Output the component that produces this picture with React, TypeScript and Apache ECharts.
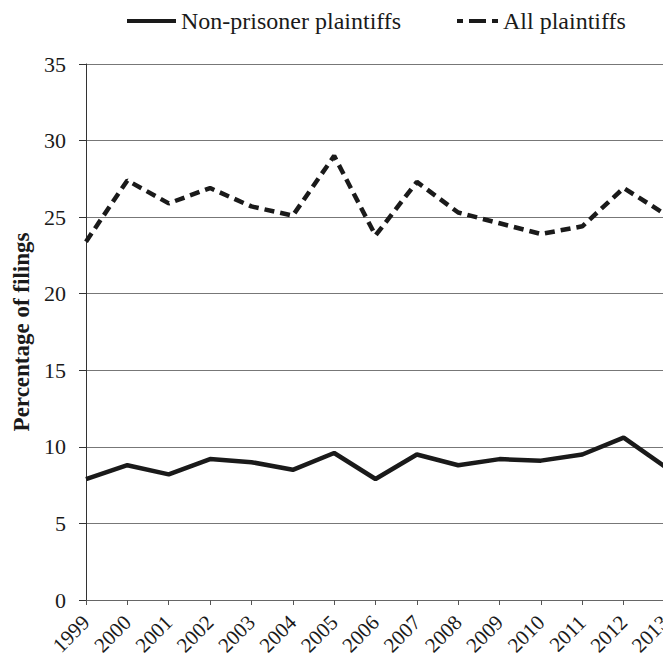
import React, { useEffect, useRef } from "react";
import * as echarts from "echarts";

const years = ["1999", "2000", "2001", "2002", "2003", "2004", "2005", "2006", "2007", "2008", "2009", "2010", "2011", "2012", "2013"];
const nonPrisoner = [7.9, 8.8, 8.2, 9.2, 9.0, 8.5, 9.6, 7.9, 9.5, 8.8, 9.2, 9.1, 9.5, 10.6, 8.7];
const allPlaintiffs = [23.4, 27.4, 25.9, 26.9, 25.7, 25.1, 29.0, 23.8, 27.3, 25.3, 24.6, 23.9, 24.4, 26.9, 25.2];
const seriesNames = ["Non-prisoner plaintiffs", "All plaintiffs"];
const yAxisName = "Percentage of filings";

const FONT = "Liberation Serif";
const INK = "#1a1a1a";

export default function App() {
  const ref = useRef<HTMLDivElement>(null);
  useEffect(() => {
    if (!ref.current) return;
    const chart = echarts.init(ref.current, null, { renderer: "svg" });
    const legendText = { fontFamily: FONT, fontSize: 24, color: INK };
    chart.setOption({
      animation: false,
      backgroundColor: "#ffffff",
      textStyle: { fontFamily: FONT },
      legend: [
        {
          left: 122,
          top: 4,
          itemWidth: 49,
          itemHeight: 4,
          textStyle: legendText,
          data: [{ name: seriesNames[0], icon: "path://M0,0h49v4h-49z" }],
        },
        {
          left: 452,
          top: 4,
          itemWidth: 41,
          itemHeight: 4,
          textStyle: legendText,
          data: [{ name: seriesNames[1], icon: "path://M0,0h6v4h-6z M12,0h17v4h-17z M35,0h6v4h-6z" }],
        },
      ],
      grid: { left: 86, right: -2, top: 64, bottom: 58, containLabel: false, outerBoundsMode: "none" },
      xAxis: {
        type: "category",
        data: years,
        boundaryGap: false,
        axisLine: { show: true, lineStyle: { color: "#666", width: 1 } },
        axisTick: { show: true, length: 5, alignWithLabel: true, lineStyle: { color: "#555" } },
        axisLabel: {
          rotate: 45,
          interval: 0,
          margin: 19,
          fontFamily: FONT,
          fontSize: 21,
          color: INK,
        },
        splitLine: { show: false },
      },
      yAxis: {
        type: "value",
        min: 0,
        max: 35,
        interval: 5,
        name: yAxisName,
        nameLocation: "middle",
        nameGap: 52,
        nameTextStyle: { fontFamily: FONT, fontSize: 23, fontWeight: "bold", color: INK },
        axisLine: { show: true, lineStyle: { color: "#333", width: 1 } },
        axisTick: { show: true, length: 7, lineStyle: { color: "#333" } },
        axisLabel: { margin: 20, fontFamily: FONT, fontSize: 22, color: INK },
        splitLine: { show: true, lineStyle: { color: "#777", width: 1 } },
      },
      series: [
        {
          name: seriesNames[0],
          type: "line",
          data: nonPrisoner,
          symbol: "none",
          lineStyle: { color: INK, width: 4.5, type: "solid" },
          itemStyle: { color: INK },
        },
        {
          name: seriesNames[1],
          type: "line",
          data: allPlaintiffs,
          symbol: "none",
          lineStyle: { color: INK, width: 4.5, type: [10, 6] },
          itemStyle: { color: INK },
        },
      ],
    });
    return () => chart.dispose();
  }, []);
  return (
    <div
      ref={ref}
      style={{ position: "fixed", left: 0, top: 0, width: 663, height: 658 }}
    />
  );
}
